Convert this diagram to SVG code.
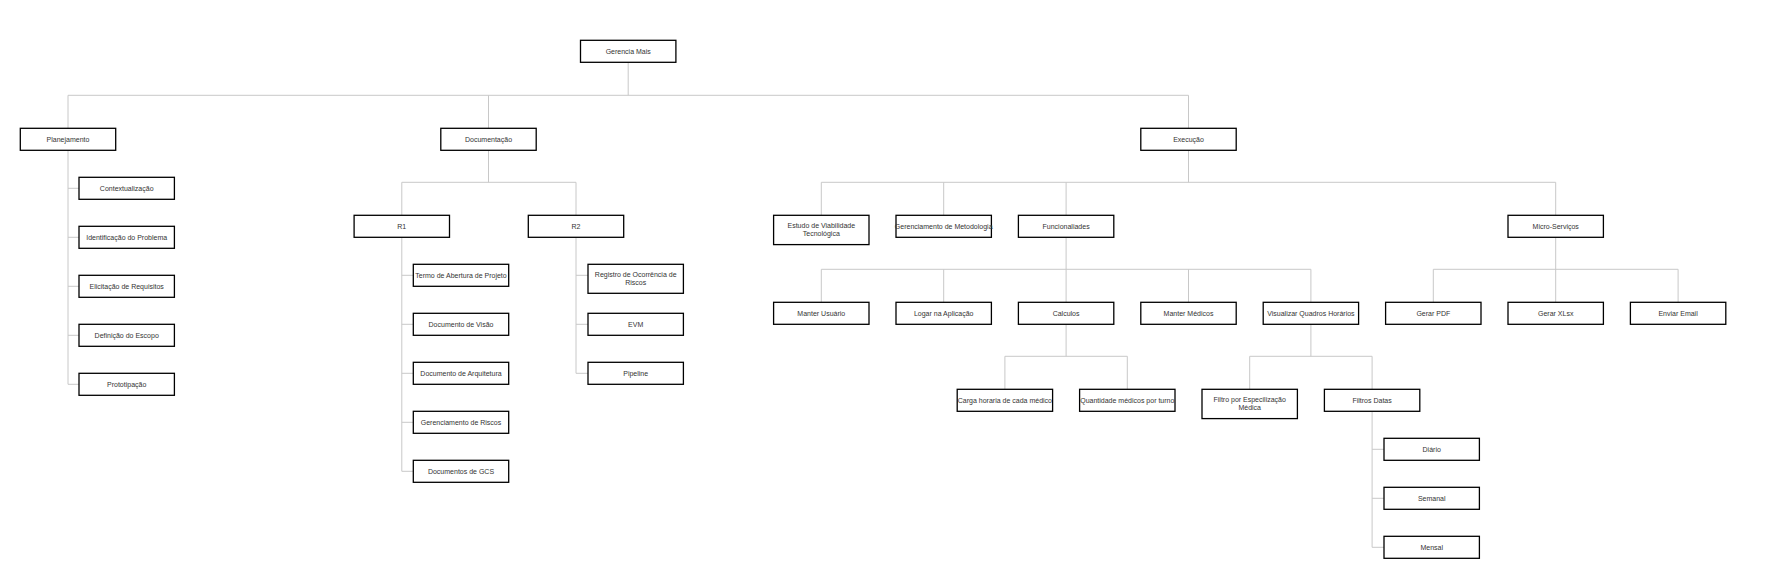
<svg xmlns="http://www.w3.org/2000/svg" width="1769" height="584" viewBox="0 0 1769 584">
<style>
.n rect{fill:#fff;stroke:#000;stroke-width:1.3}
.n text{font-family:"Liberation Sans",Arial,sans-serif;font-size:7px;fill:#333;text-anchor:middle;dominant-baseline:central}
#connectors path{fill:none;stroke:#c8c8c8;stroke-width:1}
</style>
<rect width="1769" height="584" fill="#fff"/>
<g id="connectors">
<path d="M628.2 62.3V95.3M68 128.3V95.3H1188.5V128.3M488.5 95.3V128.3"/>
<path d="M68 150.3V384.3H79M68 188.3H79M68 237.3H79M68 286.3H79M68 335.3H79"/>
<path d="M488.5 150.3V182.3M401.8 215.3V182.3H576V215.3"/>
<path d="M401.8 237.3V471.3H413.3M401.8 275.3H413.3M401.8 324.3H413.3M401.8 373.3H413.3M401.8 422.3H413.3"/>
<path d="M576 237.3V373.3H588M576 275.3H588M576 324.3H588"/>
<path d="M1188.5 150.3V182.3M821.3 215.3V182.3H1555.7V215.3M943.7 182.3V215.3M1066.1 182.3V215.3"/>
<path d="M1066.1 237.3V302.3M821.3 302.3V269.3H1310.9V302.3M943.7 269.3V302.3M1188.5 269.3V302.3"/>
<path d="M1555.7 237.3V302.3M1433.3 302.3V269.3H1678.1V302.3"/>
<path d="M1066.1 324.3V356.3M1004.9 389.3V356.3H1127.3V389.3"/>
<path d="M1310.9 324.3V356.3M1249.7 389.3V356.3H1372.1V389.3"/>
<path d="M1372.1 411.3V547.3H1384M1372.1 449.3H1384M1372.1 498.3H1384"/>
</g>
<g id="gerencia-mais" class="n"><rect x="580.5" y="40.3" width="95.4" height="22"/><text x="628.2" y="51.3">Gerencia Mais</text></g>
<g id="planejamento" class="n"><rect x="20.3" y="128.3" width="95.4" height="22"/><text x="68" y="139.3">Planejamento</text></g>
<g id="documentacao" class="n"><rect x="440.8" y="128.3" width="95.4" height="22"/><text x="488.5" y="139.3">Documentação</text></g>
<g id="execucao" class="n"><rect x="1140.8" y="128.3" width="95.4" height="22"/><text x="1188.5" y="139.3">Execução</text></g>
<g id="contextualizacao" class="n"><rect x="79" y="177.3" width="95.4" height="22"/><text x="126.7" y="188.3">Contextualização</text></g>
<g id="identificacao" class="n"><rect x="79" y="226.3" width="95.4" height="22"/><text x="126.7" y="237.3">Identificação do Problema</text></g>
<g id="elicitacao" class="n"><rect x="79" y="275.3" width="95.4" height="22"/><text x="126.7" y="286.3">Elicitação de Requisitos</text></g>
<g id="definicao" class="n"><rect x="79" y="324.3" width="95.4" height="22"/><text x="126.7" y="335.3">Definição do Escopo</text></g>
<g id="prototipacao" class="n"><rect x="79" y="373.3" width="95.4" height="22"/><text x="126.7" y="384.3">Prototipação</text></g>
<g id="r1" class="n"><rect x="354.1" y="215.3" width="95.4" height="22"/><text x="401.8" y="226.3">R1</text></g>
<g id="r2" class="n"><rect x="528.3" y="215.3" width="95.4" height="22"/><text x="576" y="226.3">R2</text></g>
<g id="termo" class="n"><rect x="413.3" y="264.3" width="95.4" height="22"/><text x="461" y="275.3">Termo de Abertura de Projeto</text></g>
<g id="visao" class="n"><rect x="413.3" y="313.3" width="95.4" height="22"/><text x="461" y="324.3">Documento de Visão</text></g>
<g id="arquitetura" class="n"><rect x="413.3" y="362.3" width="95.4" height="22"/><text x="461" y="373.3">Documento de Arquitetura</text></g>
<g id="riscos" class="n"><rect x="413.3" y="411.3" width="95.4" height="22"/><text x="461" y="422.3">Gerenciamento de Riscos</text></g>
<g id="gcs" class="n"><rect x="413.3" y="460.3" width="95.4" height="22"/><text x="461" y="471.3">Documentos de GCS</text></g>
<g id="registro" class="n"><rect x="588" y="264.3" width="95.4" height="29"/><text x="635.7" y="274.9">Registro de Ocorrência de</text><text x="635.7" y="282.9">Riscos</text></g>
<g id="evm" class="n"><rect x="588" y="313.3" width="95.4" height="22"/><text x="635.7" y="324.3">EVM</text></g>
<g id="pipeline" class="n"><rect x="588" y="362.3" width="95.4" height="22"/><text x="635.7" y="373.3">Pipeline</text></g>
<g id="estudo" class="n"><rect x="773.6" y="215.3" width="95.4" height="29.3"/><text x="821.3" y="225.9">Estudo de Viabilidade</text><text x="821.3" y="233.9">Tecnológica</text></g>
<g id="metodologia" class="n"><rect x="896" y="215.3" width="95.4" height="22"/><text x="943.7" y="226.3">Gerenciamento de Metodologia</text></g>
<g id="funcionaliades" class="n"><rect x="1018.4" y="215.3" width="95.4" height="22"/><text x="1066.1" y="226.3">Funcionaliades</text></g>
<g id="micro-servicos" class="n"><rect x="1508" y="215.3" width="95.4" height="22"/><text x="1555.7" y="226.3">Micro-Serviços</text></g>
<g id="manter-usuario" class="n"><rect x="773.6" y="302.3" width="95.4" height="22"/><text x="821.3" y="313.3">Manter Usuário</text></g>
<g id="logar" class="n"><rect x="896" y="302.3" width="95.4" height="22"/><text x="943.7" y="313.3">Logar na Aplicação</text></g>
<g id="calculos" class="n"><rect x="1018.4" y="302.3" width="95.4" height="22"/><text x="1066.1" y="313.3">Calculos</text></g>
<g id="manter-medicos" class="n"><rect x="1140.8" y="302.3" width="95.4" height="22"/><text x="1188.5" y="313.3">Manter Médicos</text></g>
<g id="visualizar" class="n"><rect x="1263.2" y="302.3" width="95.4" height="22"/><text x="1310.9" y="313.3">Visualizar Quadros Horários</text></g>
<g id="gerar-pdf" class="n"><rect x="1385.6" y="302.3" width="95.4" height="22"/><text x="1433.3" y="313.3">Gerar PDF</text></g>
<g id="gerar-xlsx" class="n"><rect x="1508" y="302.3" width="95.4" height="22"/><text x="1555.7" y="313.3">Gerar XLsx</text></g>
<g id="enviar-email" class="n"><rect x="1630.4" y="302.3" width="95.4" height="22"/><text x="1678.1" y="313.3">Enviar Email</text></g>
<g id="carga" class="n"><rect x="957.2" y="389.3" width="95.4" height="22"/><text x="1004.9" y="400.3">Carga horaria de cada médico</text></g>
<g id="quantidade" class="n"><rect x="1079.6" y="389.3" width="95.4" height="22"/><text x="1127.3" y="400.3">Quantidade médicos por turno</text></g>
<g id="filtro-especializacao" class="n"><rect x="1202" y="389.3" width="95.4" height="29.3"/><text x="1249.7" y="399.9">Filtro por Especilização</text><text x="1249.7" y="407.9">Médica</text></g>
<g id="filtros-datas" class="n"><rect x="1324.4" y="389.3" width="95.4" height="22"/><text x="1372.1" y="400.3">Filtros Datas</text></g>
<g id="diario" class="n"><rect x="1384" y="438.3" width="95.4" height="22"/><text x="1431.7" y="449.3">Diário</text></g>
<g id="semanal" class="n"><rect x="1384" y="487.3" width="95.4" height="22"/><text x="1431.7" y="498.3">Semanal</text></g>
<g id="mensal" class="n"><rect x="1384" y="536.3" width="95.4" height="22"/><text x="1431.7" y="547.3">Mensal</text></g>
</svg>
